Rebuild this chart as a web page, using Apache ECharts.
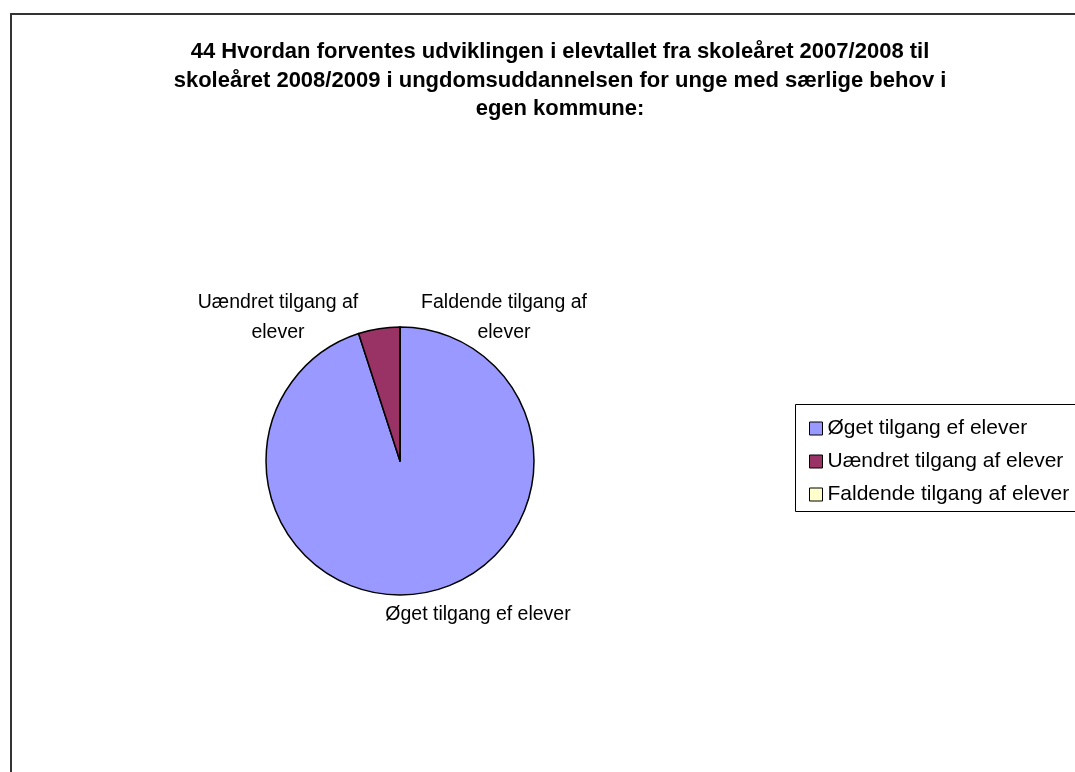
<!DOCTYPE html>
<html>
<head>
<meta charset="utf-8">
<script src="https://cdn.jsdelivr.net/npm/echarts@6/dist/echarts.min.js"></script>
<style>
html,body{margin:0;padding:0;background:#fff;}
#chart{width:1075px;height:772px;}
</style>
</head>
<body>
<div id="chart"></div>
<script>
const titleLines = [
  '44 Hvordan forventes udviklingen i elevtallet fra skoleåret 2007/2008 til',
  'skoleåret 2008/2009 i ungdomsuddannelsen for unge med særlige behov i',
  'egen kommune:'
];
const categories = ['Øget tilgang ef elever', 'Uændret tilgang af elever', 'Faldende tilgang af elever'];
const sliceLabels = ['Øget tilgang ef elever', 'Uændret tilgang af\nelever', 'Faldende tilgang af\nelever'];
const values = [95, 5, 0];
const colors = ['#9999FF', '#993366', '#FFFFCC'];

const labelPos = [[478, 615], [278, 318], [504, 318]];

const chart = echarts.init(document.getElementById('chart'), null, {renderer: 'canvas'});
chart.setOption({
  backgroundColor: '#fff',
  animation: false,
  title: {
    text: titleLines.join('\n'),
    left: 555,
    top: 33,
    textAlign: 'center',
    textStyle: {
      fontFamily: 'Liberation Sans, Arial, sans-serif',
      fontSize: 22,
      fontWeight: 'bold',
      color: '#000',
      lineHeight: 28.5
    }
  },
  graphic: [
    {type: 'rect', shape: {x: 11, y: 14, width: 1100, height: 800}, style: {fill: 'none', stroke: '#333', lineWidth: 2}, z: -1},
    {type: 'rect', shape: {x: 795.5, y: 404.5, width: 300, height: 107}, style: {fill: '#fff', stroke: '#000', lineWidth: 1}, z: 0}
  ],
  legend: {
    orient: 'vertical',
    left: 804,
    top: 413,
    itemWidth: 13,
    itemHeight: 13,
    itemGap: 12,
    icon: 'rect',
    data: categories,
    textStyle: {
      fontFamily: 'Liberation Sans, Arial, sans-serif',
      fontSize: 21,
      lineHeight: 21,
      color: '#000',
      padding: [0, 0, 0, 0]
    },
    itemStyle: {borderColor: '#000', borderWidth: 1},
    z: 5
  },
  series: [{
    type: 'pie',
    center: [400, 461],
    radius: 134,
    startAngle: 90,
    clockwise: true,
    avoidLabelOverlap: false,
    stillShowZeroSum: true,
    data: categories.map((c, i) => ({
      name: c,
      value: values[i],
      itemStyle: {color: colors[i]},
      label: {formatter: sliceLabels[i]}
    })),
    itemStyle: {borderColor: '#000', borderWidth: 1.5},
    label: {
      show: true,
      position: 'outside',
      color: '#000',
      fontFamily: 'Liberation Sans, Arial, sans-serif',
      fontSize: 19.5,
      lineHeight: 30,
      align: 'center'
    },
    labelLine: {show: false},
    labelLayout: function (p) {
      const pos = labelPos[p.dataIndex];
      return {x: pos[0], y: pos[1], align: 'center', verticalAlign: 'middle'};
    },
    emphasis: {disabled: true}
  }]
});
</script>
</body>
</html>
